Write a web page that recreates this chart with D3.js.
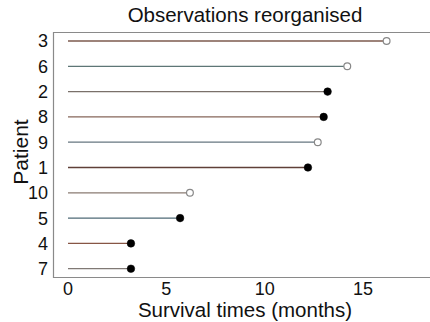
<!DOCTYPE html>
<html>
<head>
<meta charset="utf-8">
<script src="https://cdn.jsdelivr.net/npm/d3@7"></script>
<style>
  html, body { margin: 0; padding: 0; background: #fff; }
  svg { display: block; }
  text { font-family: "Liberation Sans", Arial, sans-serif; fill: #111; }
</style>
</head>
<body>
<svg id="chart" width="430" height="322"></svg>
<script>
// Patients in display order (top to bottom)
const patients = ["3", "6", "2", "8", "9", "1", "10", "5", "4", "7"];
// Survival time in months for each patient
const times = [16.2, 14.2, 13.2, 13.0, 12.7, 12.2, 6.2, 5.7, 3.2, 3.2];
// 1 = death observed (filled dot), 0 = censored (open circle)
const events = [0, 0, 1, 1, 0, 1, 0, 1, 1, 1];
// Subtle per-line tints
const lineColors = ["#7d5a4e", "#5e7676", "#7a706a", "#86665a", "#667680",
                    "#5f4038", "#8a7b72", "#4f6a76", "#875645", "#807975"];
const xTicks = [0, 5, 10, 15];

const svg = d3.select("#chart");
const frame = { left: 53.5, top: 32.5, bottom: 277.5, right: 432 };

const x = d3.scaleLinear().domain([0, 15]).range([68, 363]);
const y = d3.scalePoint().domain(patients).range([41, 268.7]);

const data = patients.map((p, i) => ({ p, t: times[i], e: events[i], c: lineColors[i] }));

// Frame: left, top and bottom edges
svg.append("path")
  .attr("d", `M${frame.right},${frame.top}H${frame.left}V${frame.bottom}H${frame.right}`)
  .attr("fill", "none").attr("stroke", "#8a8a8a").attr("stroke-width", 1.2);

// Segments from time zero to the observed time
svg.append("g").selectAll("line").data(data).join("line")
  .attr("x1", x(0)).attr("x2", d => x(d.t))
  .attr("y1", d => y(d.p)).attr("y2", d => y(d.p))
  .attr("stroke", d => d.c).attr("stroke-width", 1.3);

// End markers
svg.append("g").selectAll("circle").data(data).join("circle")
  .attr("cx", d => x(d.t)).attr("cy", d => y(d.p))
  .attr("r", d => d.e ? 3.8 : 3.4)
  .attr("fill", d => d.e ? "#000" : "#fff")
  .attr("stroke", d => d.e ? "#000" : "#888")
  .attr("stroke-width", d => d.e ? 0.5 : 1.2);

// Y tick labels
svg.append("g").selectAll("text").data(patients).join("text")
  .attr("x", 48).attr("y", d => y(d)).attr("dy", "0.36em")
  .attr("text-anchor", "end").attr("font-size", 18).text(d => d);

// X tick labels
svg.append("g").selectAll("text").data(xTicks).join("text")
  .attr("x", d => x(d)).attr("y", 295)
  .attr("text-anchor", "middle").attr("font-size", 18).text(d => d);

// Titles
svg.append("text").attr("x", 245).attr("y", 22).attr("text-anchor", "middle")
  .attr("font-size", 20.5).text("Observations reorganised");
svg.append("text").attr("x", 245).attr("y", 317).attr("text-anchor", "middle")
  .attr("font-size", 20.5).text("Survival times (months)");
svg.append("text").attr("transform", "translate(28,152) rotate(-90)")
  .attr("text-anchor", "middle").attr("font-size", 21).text("Patient");
</script>
</body>
</html>
